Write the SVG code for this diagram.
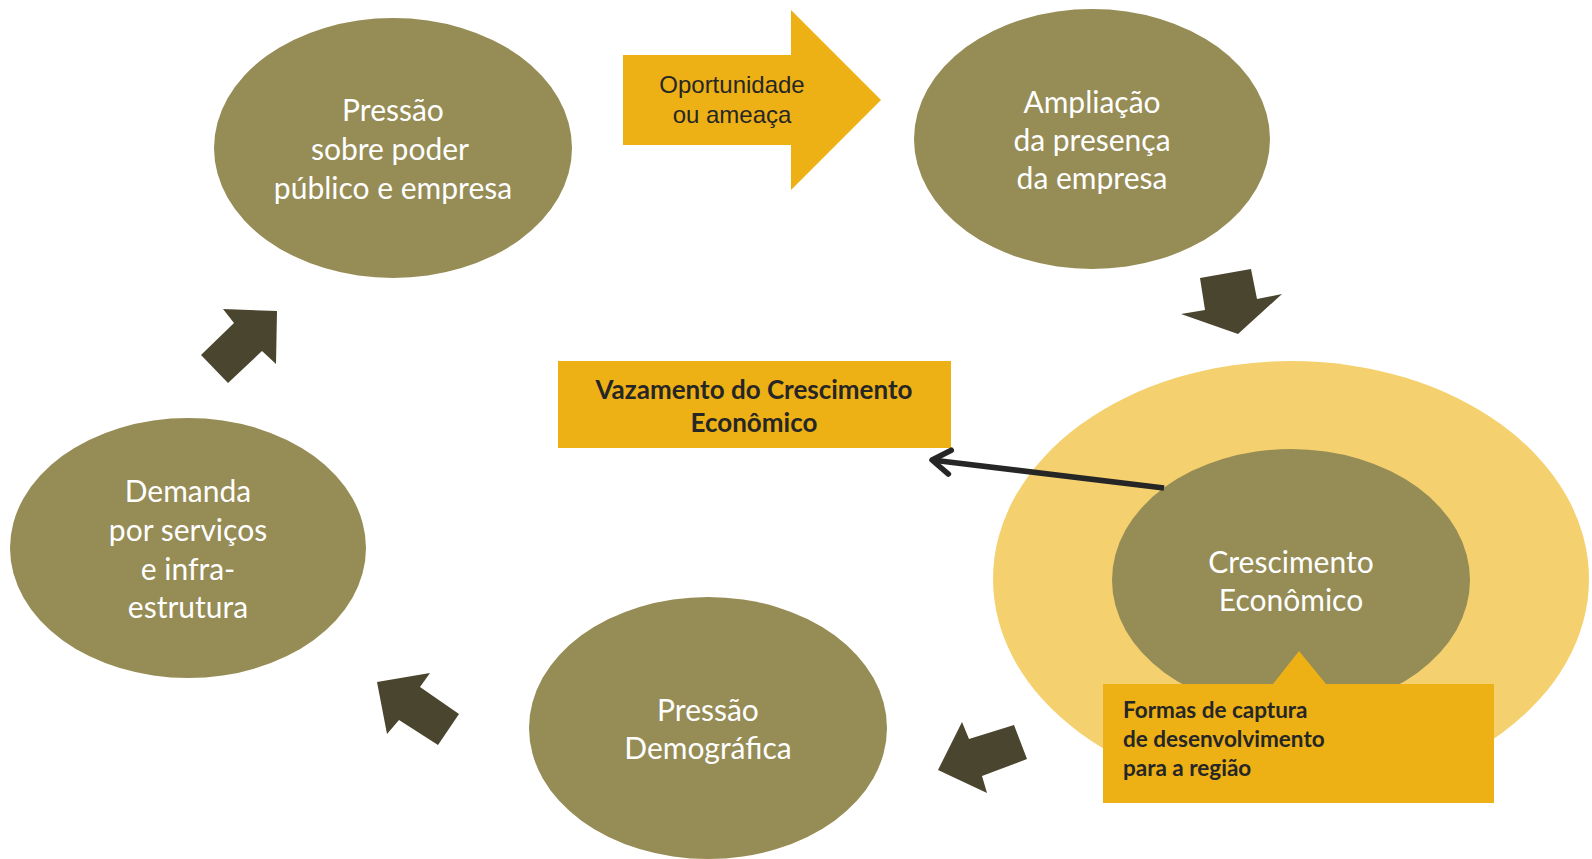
<svg xmlns="http://www.w3.org/2000/svg" width="1592" height="859" viewBox="0 0 1592 859">
<style>
.ell{fill:#968c55}
.et{font-family:Lato,"Open Sans",sans-serif;font-size:30px;fill:#ffffff;text-anchor:middle}
.dark{fill:#4a452e}
.gold{fill:#edb115}
.bt{font-family:Lato,"Open Sans",sans-serif;font-weight:bold;fill:#262626}
</style>
<defs>
<marker id="chev" markerUnits="userSpaceOnUse" markerWidth="40" markerHeight="40" refX="0" refY="0" viewBox="-30 -20 40 40" orient="auto" overflow="visible">
<path d="M-18,-12 L0,0 L-18,12" fill="none" stroke="#262626" stroke-width="5.5" stroke-linecap="round" stroke-linejoin="round"/>
</marker>
</defs>
<rect width="1592" height="859" fill="#ffffff"/>

<g id="node-crescimento-outer">
<ellipse cx="1291" cy="579" rx="298" ry="218" fill="#f4d06f"/>
</g>

<g id="node-pressao-poder">
<ellipse class="ell" cx="393" cy="148" rx="179" ry="130"/>
<text class="et" x="393" y="121">Pressão</text>
<text class="et" x="390" y="160">sobre poder</text>
<text class="et" x="393" y="199">público e empresa</text>
</g>

<g id="node-oportunidade">
<polygon class="gold" points="623,55 791,55 791,10 881,100 791,190 791,145 623,145"/>
<text x="732" y="93" font-family="Liberation Sans,Arial,sans-serif" font-size="24" fill="#262626" text-anchor="middle">Oportunidade</text>
<text x="732" y="123" font-family="Liberation Sans,Arial,sans-serif" font-size="24" fill="#262626" text-anchor="middle">ou ameaça</text>
</g>

<g id="node-ampliacao">
<ellipse class="ell" cx="1092" cy="139" rx="178" ry="130"/>
<text class="et" x="1092" y="113">Ampliação</text>
<text class="et" x="1092" y="151">da presença</text>
<text class="et" x="1092" y="189">da empresa</text>
</g>

<g id="node-crescimento">
<ellipse class="ell" cx="1291" cy="580" rx="179" ry="131"/>
<text class="et" x="1291" y="573">Crescimento</text>
<text class="et" x="1291" y="611">Econômico</text>
</g>

<g id="node-formas">
<polygon class="gold" points="1103,684 1273,684 1299,651 1326,684 1494,684 1494,803 1103,803"/>
<text class="bt" font-size="22.5" x="1123" y="718">Formas de captura</text>
<text class="bt" font-size="22.5" x="1123" y="747">de desenvolvimento</text>
<text class="bt" font-size="22.5" x="1123" y="776">para a região</text>
</g>

<g id="node-vazamento">
<rect class="gold" x="558" y="361" width="393" height="87"/>
<text class="bt" font-size="26" x="754" y="399" text-anchor="middle">Vazamento do Crescimento</text>
<text class="bt" font-size="26" x="754" y="432" text-anchor="middle">Econômico</text>
</g>

<g id="node-pressao-demografica">
<ellipse class="ell" cx="708" cy="728" rx="179" ry="131"/>
<text class="et" x="708" y="721">Pressão</text>
<text class="et" x="708" y="759">Demográfica</text>
</g>

<g id="node-demanda">
<ellipse class="ell" cx="188" cy="548" rx="178" ry="130"/>
<text class="et" x="188" y="502">Demanda</text>
<text class="et" x="188" y="541">por serviços</text>
<text class="et" x="188" y="580">e infra-</text>
<text class="et" x="188" y="618">estrutura</text>
</g>

<g id="connectors">
<polygon class="dark" points="1200,278 1251,269 1257,299 1282,294 1238,334 1181,314 1205,310"/>
<polygon class="dark" points="938,770 962,722 969,739 1014,725 1027,759 982,776 987,793"/>
<polygon class="dark" points="377,682 430,673 420,687 459,714 438,745 399,720 387,734"/>
<polygon class="dark" points="223,309 277,311 276,364 262,351 228,383 201,355 234,323"/>
<line x1="1164" y1="488" x2="932" y2="460" stroke="#262626" stroke-width="5.5" marker-end="url(#chev)"/>
</g>
</svg>
